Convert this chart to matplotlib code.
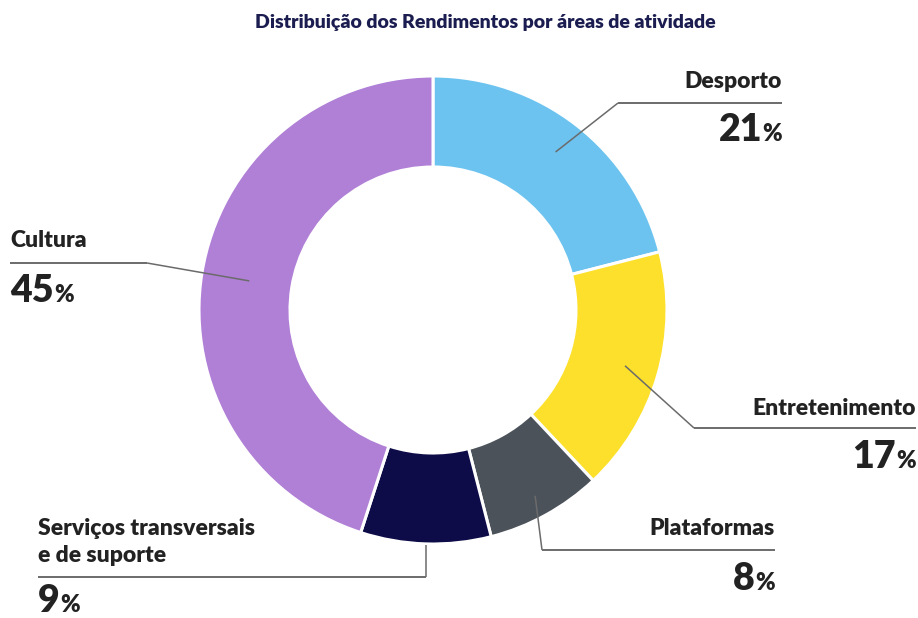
import matplotlib.pyplot as plt
import numpy as np

# dados do gráfico
categorias = ["Desporto", "Entretenimento", "Plataformas",
              "Serviços transversais\ne de suporte", "Cultura"]
percentagens = [21, 17, 8, 9, 45]
cores = ["#6cc3ef", "#fde02b", "#4b525a", "#0d0c48", "#b07fd6"]
titulo = "Distribuição dos Rendimentos por áreas de atividade"

W, H = 918, 618
FONTE = ["Lato", "DejaVu Sans"]
COR_TEXTO = "#222222"
COR_LINHA = "#6b6b6b"

# posições das etiquetas (pixels da imagem, y de cima para baixo)
# lado, x do texto, base do nome, y da linha, x do cotovelo, base da %, raio de partida
layout = {
    "Desporto":       ("right", 782, [88],       103, 618, 141, 200),
    "Entretenimento": ("right", 916, [415],      428, 694, 468, 200),
    "Plataformas":    ("right", 775, [535],      550, 542, 590, 212),
    "Serviços transversais\ne de suporte":
                      ("left",   38, [535, 562], 577, None, 612, 235),
    "Cultura":        ("left",   10, [247],      263, 147, 302, 186),
}

cx, cy, raio, largura = 433, H - 310, 234, 91

fig = plt.figure(figsize=(W / 100, H / 100), dpi=100)
ax = fig.add_axes([0, 0, 1, 1])
wedges, _ = ax.pie(percentagens, colors=cores, startangle=90, counterclock=False,
                   radius=raio, center=(cx, cy),
                   wedgeprops=dict(width=largura, edgecolor="white", linewidth=2.2))
ax.set_xlim(0, W)
ax.set_ylim(0, H)
ax.set_aspect("equal")
ax.axis("off")

ax.text(485, H - 28, titulo, ha="center", va="baseline", fontsize=14,
        fontweight="heavy", color="#1b1d50", family=FONTE)

renderer = fig.canvas.get_renderer()

for w, nome, pct in zip(wedges, categorias, percentagens):
    lado, x, bases, y_linha, x_cot, base_pct, r0 = layout[nome]
    ang = np.deg2rad((w.theta1 + w.theta2) / 2)
    x0 = cx + r0 * np.cos(ang)
    y0 = cy + r0 * np.sin(ang)
    yl = H - y_linha
    if x_cot is None:
        x_cot = x0
    ax.plot([x0, x_cot], [y0, yl], color=COR_LINHA, lw=1.1, solid_capstyle="butt")
    ax.plot([x_cot, x], [yl, yl], color=COR_LINHA, lw=1.4, solid_capstyle="butt")

    ha = "right" if lado == "right" else "left"
    for linha, b in zip(nome.split("\n"), bases):
        ax.text(x, H - b, linha, ha=ha, va="baseline", fontsize=16.5,
                fontweight="heavy", color=COR_TEXTO, family=FONTE)

    # número grande + símbolo % mais pequeno
    if lado == "right":
        t_pc = ax.text(x, H - base_pct, "%", ha="right", va="baseline", fontsize=17,
                       fontweight="heavy", color=COR_TEXTO, family=FONTE)
        wpc = t_pc.get_window_extent(renderer).width
        ax.text(x - wpc - 0.5, H - base_pct, str(pct), ha="right", va="baseline",
                fontsize=27, fontweight="heavy", color=COR_TEXTO, family=FONTE)
    else:
        t_n = ax.text(x, H - base_pct, str(pct), ha="left", va="baseline",
                      fontsize=27, fontweight="heavy", color=COR_TEXTO, family=FONTE)
        wn = t_n.get_window_extent(renderer).width
        ax.text(x + wn + 0.5, H - base_pct, "%", ha="left", va="baseline", fontsize=17,
                fontweight="heavy", color=COR_TEXTO, family=FONTE)

fig.savefig("out.png", dpi=100, facecolor="white")
